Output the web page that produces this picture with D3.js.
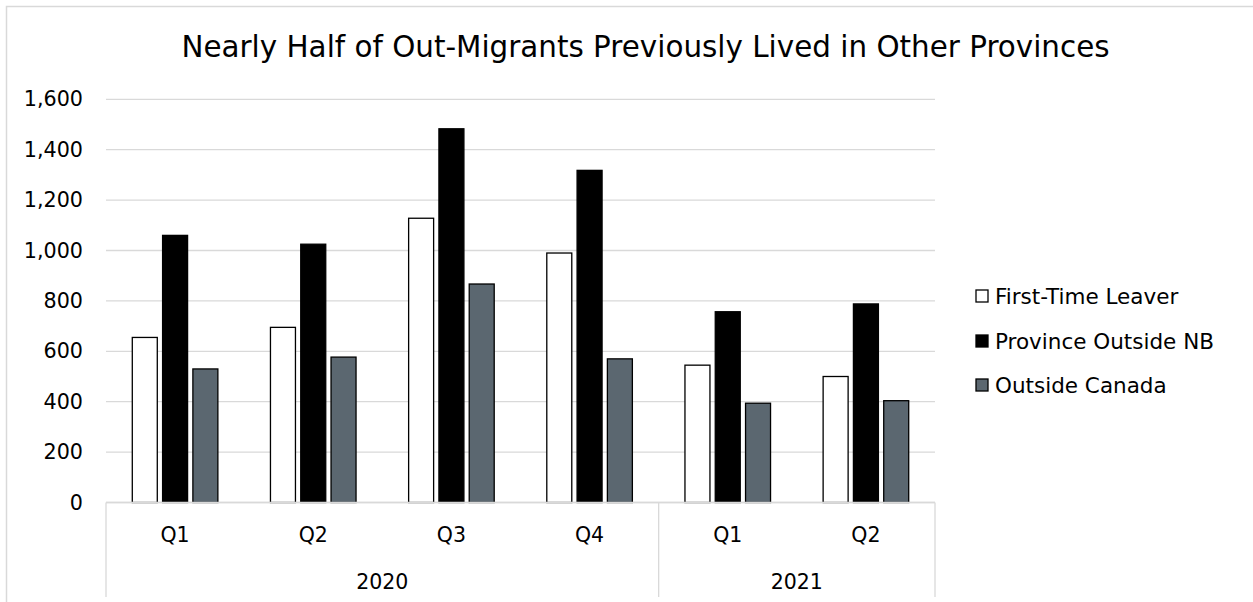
<!DOCTYPE html>
<html>
<head>
<meta charset="utf-8">
<script src="https://cdn.jsdelivr.net/npm/d3@7"></script>
<style>
  html, body { margin: 0; padding: 0; background: #fff; }
  svg { display: block; }
  text { font-family: "DejaVu Sans", sans-serif; fill: #000; }
</style>
</head>
<body>
<svg id="chart" width="1253" height="602"></svg>
<script>
// ---- data ----
const quarters = ["Q1", "Q2", "Q3", "Q4", "Q1", "Q2"];
const years = ["2020", "2020", "2020", "2020", "2021", "2021"];
const seriesNames = ["First-Time Leaver", "Province Outside NB", "Outside Canada"];
const firstTimeLeaver = [655, 695, 1128, 990, 545, 500];
const provinceOutsideNB = [1060, 1025, 1483, 1318, 757, 788];
const outsideCanada = [530, 577, 867, 570, 394, 404];
const yTicks = [0, 200, 400, 600, 800, 1000, 1200, 1400, 1600];
const title = "Nearly Half of Out-Migrants Previously Lived in Other Provinces";

const seriesValues = [firstTimeLeaver, provinceOutsideNB, outsideCanada];
const colors = ["#ffffff", "#000000", "#5b6770"];

const svg = d3.select("#chart");
const plot = { left: 106, right: 935, top: 99.3, bottom: 502.5 };

// chart border (top & left visible)
svg.append("rect")
  .attr("x", 6.5).attr("y", 6.5)
  .attr("width", 1300).attr("height", 700)
  .attr("fill", "#fff").attr("stroke", "#d9d9d9").attr("stroke-width", 1.5);

// title
svg.append("text")
  .attr("x", 645.5).attr("y", 57)
  .attr("text-anchor", "middle")
  .style("font-size", "29.4px")
  .text(title);

const idx = d3.range(quarters.length);
const x0 = d3.scaleBand().domain(idx).range([plot.left, plot.right]).paddingInner(0).paddingOuter(0);
const x1 = d3.scaleBand().domain(d3.range(seriesNames.length))
  .range([0, x0.bandwidth()]).paddingInner(0.175).paddingOuter(0.868);
const y = d3.scaleLinear().domain([0, 1600]).range([plot.bottom, plot.top]);

// gridlines
svg.append("g").selectAll("line").data(yTicks).join("line")
  .attr("x1", plot.left).attr("x2", plot.right)
  .attr("y1", d => y(d)).attr("y2", d => y(d))
  .attr("stroke", "#d9d9d9").attr("stroke-width", 1.3);

// y axis labels
const yAxis = d3.axisLeft(y).tickValues(yTicks).tickFormat(d3.format(",")).tickSize(0).tickPadding(23);
const ya = svg.append("g").attr("transform", `translate(${plot.left},0)`).call(yAxis);
ya.select(".domain").remove();
ya.selectAll("text").style("font-size", "20.7px").style("font-family", "DejaVu Sans, sans-serif").attr("fill", "#000");

// bars
const groups = svg.append("g").selectAll("g").data(idx).join("g")
  .attr("transform", i => `translate(${x0(i)},0)`);
groups.selectAll("rect")
  .data(i => seriesValues.map((vals, s) => ({ s, v: vals[i] })))
  .join("rect")
  .attr("x", d => x1(d.s))
  .attr("width", x1.bandwidth())
  .attr("y", d => y(d.v))
  .attr("height", d => y(0) - y(d.v))
  .attr("fill", d => colors[d.s])
  .attr("stroke", "#000")
  .attr("stroke-width", 1.3);

// category axis (multi-level)
const axisG = svg.append("g");
axisG.append("line")
  .attr("x1", plot.left).attr("x2", plot.right)
  .attr("y1", y(0)).attr("y2", y(0))
  .attr("stroke", "#d9d9d9").attr("stroke-width", 1.3);

// year groups
const yearGroups = [];
years.forEach((yr, i) => {
  const last = yearGroups[yearGroups.length - 1];
  if (last && last.year === yr) last.end = i; else yearGroups.push({ year: yr, start: i, end: i });
});
const boundaries = [x0(0)].concat(yearGroups.map(g => x0(g.end) + x0.bandwidth()));
axisG.selectAll("line.sep").data(boundaries).join("line").attr("class", "sep")
  .attr("x1", d => d).attr("x2", d => d)
  .attr("y1", y(0)).attr("y2", 597)
  .attr("stroke", "#d9d9d9").attr("stroke-width", 1.3);

axisG.selectAll("text.q").data(idx).join("text").attr("class", "q")
  .attr("x", i => x0(i) + x0.bandwidth() / 2)
  .attr("y", 542)
  .attr("text-anchor", "middle")
  .style("font-size", "20.5px")
  .text(i => quarters[i]);

axisG.selectAll("text.yr").data(yearGroups).join("text").attr("class", "yr")
  .attr("x", g => (x0(g.start) + x0(g.end) + x0.bandwidth()) / 2)
  .attr("y", 589)
  .attr("text-anchor", "middle")
  .style("font-size", "20.5px")
  .text(g => g.year);

// legend
const legend = svg.append("g").attr("transform", "translate(976,0)");
const legendY = [296, 341, 385];
const lg = legend.selectAll("g").data(seriesNames).join("g")
  .attr("transform", (d, i) => `translate(0,${legendY[i]})`);
lg.append("rect")
  .attr("x", 0).attr("y", -6).attr("width", 12).attr("height", 12)
  .attr("fill", (d, i) => colors[i]).attr("stroke", "#000").attr("stroke-width", 1.3);
lg.append("text")
  .attr("x", 19).attr("y", 7.5)
  .style("font-size", "21.5px")
  .text(d => d);
</script>
</body>
</html>
